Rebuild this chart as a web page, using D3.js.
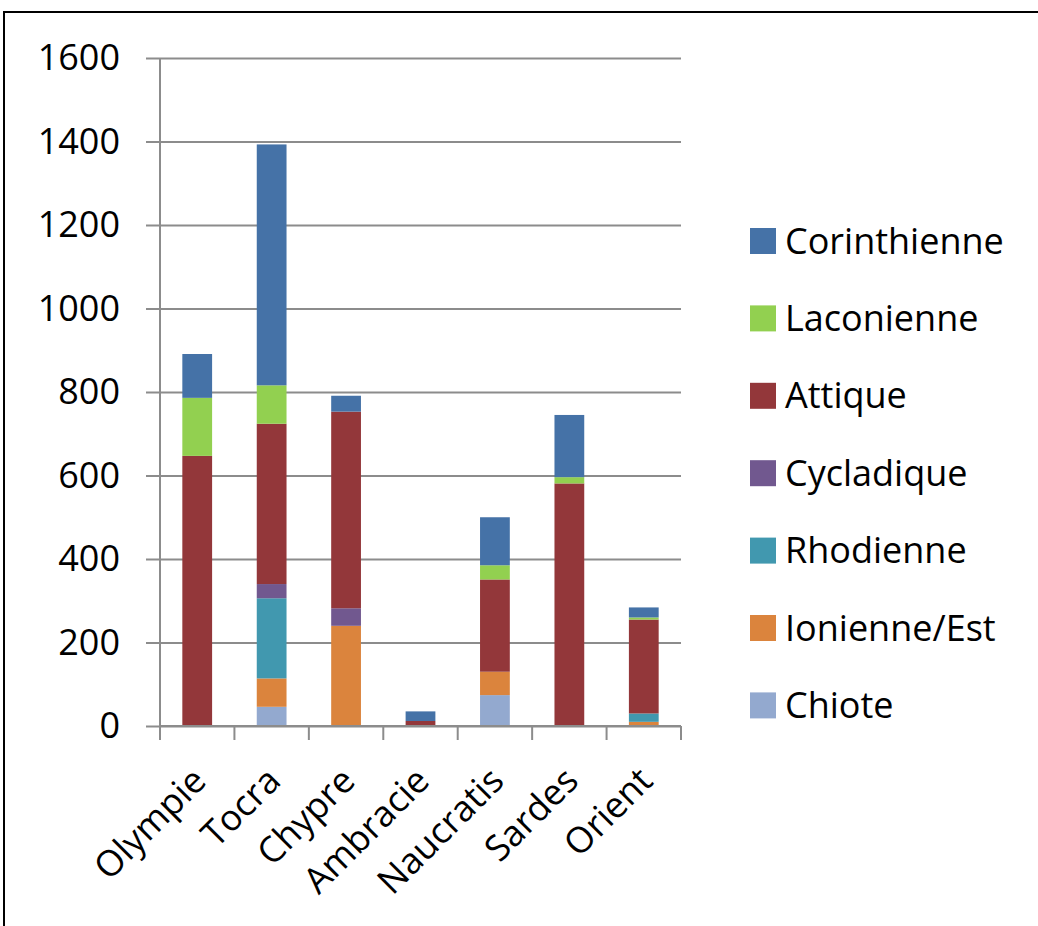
<!DOCTYPE html>
<html>
<head>
<meta charset="utf-8">
<script src="https://cdn.jsdelivr.net/npm/d3@7"></script>
<style>
  body { margin: 0; background: #fff; }
  svg { display: block; font-family: "Open Sans", sans-serif; }
</style>
</head>
<body>
<svg width="1038" height="926"></svg>
<script>
// Data
var categories = ["Olympie", "Tocra", "Chypre", "Ambracie", "Naucratis", "Sardes", "Orient"];
var chiote       = [0, 46, 0, 0, 74, 0, 0];
var ionienne     = [0, 68, 240, 0, 56, 0, 10];
var rhodienne    = [0, 192, 0, 0, 0, 0, 20];
var cycladique   = [0, 34, 42, 0, 0, 0, 0];
var attique      = [647, 384, 471, 12, 221, 581, 225];
var laconienne   = [139, 92, 0, 0, 34, 15, 5];
var corinthienne = [105, 577, 38, 23, 115, 149, 24];
var yTicks = [0, 200, 400, 600, 800, 1000, 1200, 1400, 1600];

var seriesNames = ["Chiote", "Ionienne/Est", "Rhodienne", "Cycladique", "Attique", "Laconienne", "Corinthienne"];
var seriesValues = [chiote, ionienne, rhodienne, cycladique, attique, laconienne, corinthienne];
var colors = ["#93a9cf", "#db843d", "#4198af", "#71588f", "#93373a", "#92d050", "#4572a7"];

var svg = d3.select("svg");

// outer frame
svg.append("rect")
    .attr("x", 4).attr("y", 12)
    .attr("width", 1050).attr("height", 930)
    .attr("fill", "none")
    .attr("stroke", "#000")
    .attr("stroke-width", 2);

var table = categories.map(function(c, i) {
  var row = {cat: c};
  seriesNames.forEach(function(s, j) { row[s] = seriesValues[j][i]; });
  return row;
});

var stacked = d3.stack().keys(seriesNames)(table);

var x = d3.scaleBand()
    .domain(categories)
    .range([160, 681])
    .paddingInner(0.6)
    .paddingOuter(0.3);

var y = d3.scaleLinear()
    .domain([0, 1600])
    .range([726, 58]);

var color = d3.scaleOrdinal().domain(seriesNames).range(colors);

// gridlines + y ticks
var yAxis = svg.append("g")
    .attr("transform", "translate(160,0)")
    .call(d3.axisLeft(y).tickValues(yTicks).tickFormat(d3.format("d"))
      .tickSize(-521).tickSizeOuter(0).tickPadding(40));
yAxis.select(".domain").remove();
yAxis.selectAll(".tick line")
    .attr("x1", -14)
    .attr("stroke", "#8c8c8c")
    .attr("stroke-width", 2);
yAxis.selectAll(".tick text")
    .attr("fill", "#000")
    .style("font-size", "36px")
    .style("font-family", "'Open Sans', sans-serif");

// bars
svg.append("g").selectAll("g")
  .data(stacked).enter().append("g")
    .attr("fill", function(d) { return color(d.key); })
  .selectAll("rect")
  .data(function(d) { return d; }).enter().append("rect")
    .attr("x", function(d) { return x(d.data.cat); })
    .attr("width", x.bandwidth())
    .attr("y", function(d) { return y(d[1]); })
    .attr("height", function(d) { return y(d[0]) - y(d[1]); });

// x axis line and ticks between categories
var step = x.step();
var xAxis = svg.append("g");
xAxis.append("line")
    .attr("x1", 160).attr("x2", 681)
    .attr("y1", y(0)).attr("y2", y(0))
    .attr("stroke", "#8c8c8c").attr("stroke-width", 2);
xAxis.append("line")
    .attr("x1", 160).attr("x2", 160)
    .attr("y1", y(1600)).attr("y2", y(0))
    .attr("stroke", "#8c8c8c").attr("stroke-width", 2);
xAxis.selectAll(".xt")
  .data(d3.range(categories.length + 1)).enter().append("line")
    .attr("class", "xt")
    .attr("x1", function(i) { return 160 + i * step; })
    .attr("x2", function(i) { return 160 + i * step; })
    .attr("y1", y(0)).attr("y2", y(0) + 14)
    .attr("stroke", "#8c8c8c").attr("stroke-width", 2);

xAxis.selectAll(".xl")
  .data(categories).enter().append("text")
    .attr("class", "xl")
    .attr("text-anchor", "end")
    .attr("dy", "0.35em")
    .attr("transform", function(d) {
      return "translate(" + (x(d) + x.bandwidth() / 2 + 2) + ",774) rotate(-45)";
    })
    .style("font-size", "36px")
    .attr("fill", "#000")
    .text(function(d) { return d; });

// legend, top entry is the top of the stack
var legend = svg.append("g").selectAll("g")
  .data(seriesNames.slice().reverse()).enter().append("g")
    .attr("transform", function(d, i) { return "translate(750," + (241 + i * 77.4) + ")"; });
legend.append("rect")
    .attr("x", 0).attr("y", -13)
    .attr("width", 26).attr("height", 26)
    .attr("fill", function(d) { return color(d); });
legend.append("text")
    .attr("x", 35)
    .attr("dy", "0.35em")
    .style("font-size", "36px")
    .attr("fill", "#000")
    .text(function(d) { return d; });
</script>
</body>
</html>
